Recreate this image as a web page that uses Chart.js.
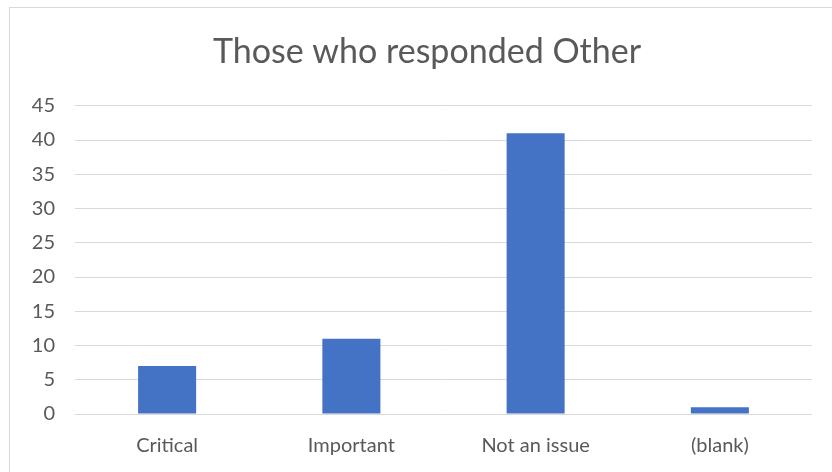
<!DOCTYPE html>
<html>
<head>
<meta charset="utf-8">
<script src="https://cdn.jsdelivr.net/npm/chart.js@4"></script>
<style>
  html, body { margin: 0; padding: 0; background: #fff; overflow: hidden; }
  #frame { position: absolute; left: 9px; top: 7px; width: 840px; height: 480px; border: 1px solid #d9d9d9; }
  #wrap { position: absolute; left: 0; top: 0; width: 832px; height: 472px; }
</style>
</head>
<body>
<div id="frame"></div>
<div id="wrap"><canvas id="chart1"></canvas></div>
<script>
const categories = ['Critical', 'Important', 'Not an issue', '(blank)'];
const counts = [7, 11, 41, 1];
const yTicks = [0, 5, 10, 15, 20, 25, 30, 35, 40, 45];

// centre the title on the outer frame rather than on the padded canvas
const titleShift = {
  id: 'titleShift',
  afterLayout(chart) {
    if (chart.titleBlock) chart.titleBlock.left += 22;
  }
};

const ctx = document.getElementById('chart1');
new Chart(ctx, {
  type: 'bar',
  data: {
    labels: categories,
    datasets: [{
      label: 'Count',
      data: counts,
      backgroundColor: '#4472c4',
      borderWidth: 0,
      categoryPercentage: 1,
      barPercentage: 0.315
    }]
  },
  options: {
    responsive: true,
    maintainAspectRatio: false,
    animation: false,
    layout: { padding: { top: 32, left: 20, right: 20, bottom: 2 } },
    plugins: {
      legend: { display: false },
      tooltip: { enabled: false },
      title: {
        display: true,
        text: 'Those who responded Other',
        color: '#595959',
        font: { family: 'Lato', size: 34, weight: 'normal' },
        padding: { top: 0, bottom: 33 }
      }
    },
    scales: {
      x: {
        grid: { display: false },
        border: { display: false },
        ticks: { color: '#595959', font: { family: 'Lato', size: 20 }, padding: 12 }
      },
      y: {
        min: 0,
        max: 45,
        afterBuildTicks: (scale) => { scale.ticks = yTicks.map(v => ({ value: v })); },
        afterFit: (scale) => { scale.width = 55; },
        grid: { color: '#d9d9d9', lineWidth: 1, drawTicks: false },
        border: { display: false },
        ticks: { color: '#595959', font: { family: 'Lato', size: 20 }, padding: 20 }
      }
    }
  },
  plugins: [titleShift]
});
</script>
</body>
</html>
